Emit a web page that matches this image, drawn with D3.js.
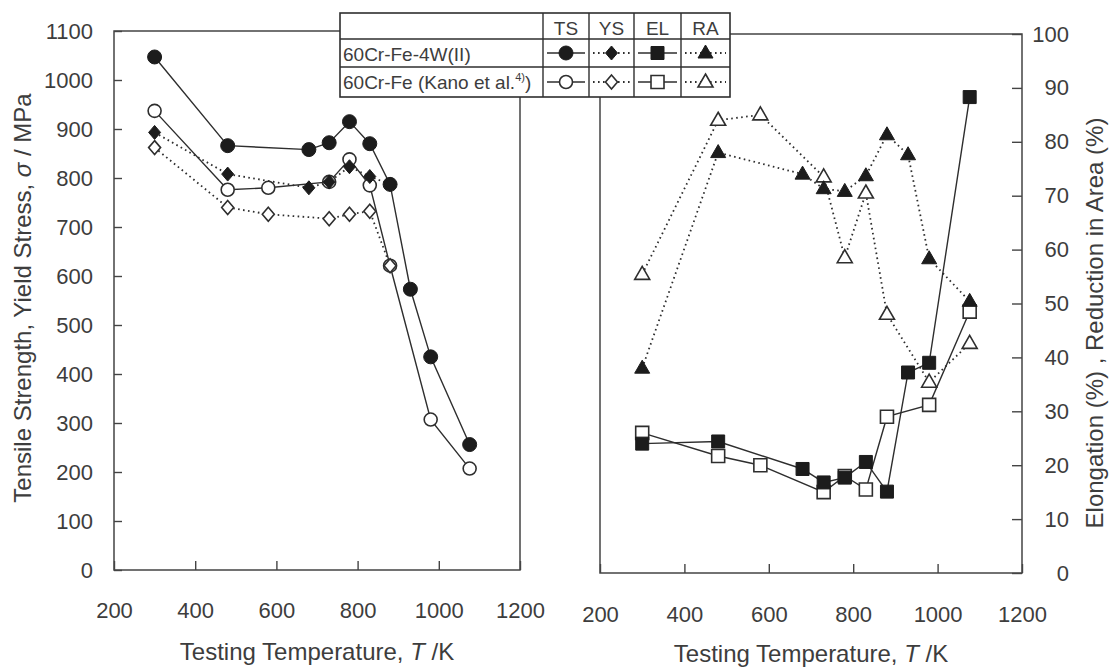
<!DOCTYPE html>
<html>
<head>
<meta charset="utf-8">
<script src="https://cdn.jsdelivr.net/npm/d3@7"></script>
<style>
body { margin: 0; background: #fff; }
text { font-family: "Liberation Sans", Arial, sans-serif; fill: #3d3d3d; }
</style>
</head>
<body>
<svg id="chart" width="1112" height="671"></svg>
<script>
// testing temperatures, K
var tempW = [300, 480, 680, 730, 780, 830, 880, 930, 980, 1076];   // 60Cr-Fe-4W(II)
var tempK = [300, 480, 580, 730, 780, 830, 880, 980, 1076];        // 60Cr-Fe (Kano et al.)

// 60Cr-Fe-4W(II): TS, YS in MPa, EL, RA in %
var tsW = [1047, 866, 858, 872, 915, 870, 787, 573, 435, 256];
var ysW = [893, 808, 780, 792, 823, 803, 787];
var elW = [24, 24.4, 19.3, 16.8, 17.7, 20.6, 15.1, 37.2, 39, 88.3];
var raW = [38, 78, 74, 71.3, 70.8, 73.7, 81.3, 77.6, 58.3, 50.4];

// 60Cr-Fe (Kano et al.)
var tsK = [937, 776, 780, 792, 838, 785, 621, 307, 207];
var ysK = [862, 740, 726, 717, 726, 732, 621];
var elK = [26, 21.7, 20, 15, 18, 15.5, 29, 31.2, 48.5];
var raK = [55.4, 84, 85, 73.5, 58.5, 70.5, 48, 35.4, 42.6];

var tempTicks = [200, 400, 600, 800, 1000, 1200];
var stressTicks = [0, 100, 200, 300, 400, 500, 600, 700, 800, 900, 1000, 1100];
var pctTicks = [0, 10, 20, 30, 40, 50, 60, 70, 80, 90, 100];
var legendCols = ["TS", "YS", "EL", "RA"];

var svg = d3.select("#chart");
var ink = "#2e2e2e", frame = "#444";

// scales
var xL = d3.scaleLinear().domain([200, 1200]).range([114, 520]);
var yL = d3.scaleLinear().domain([0, 1100]).range([570, 31]);
var xR = d3.scaleLinear().domain([200, 1200]).range([600, 1022]);
var yR = d3.scaleLinear().domain([0, 100]).range([573, 34]);

function zipData(temps, vals) {
    return vals.map(function(v, i) { return {t: temps[i], v: v}; });
}

// marker shapes, px
var shapes = {
    circle: function(open) { var r = open ? 6.5 : 7; return d3.arc()({innerRadius: 0, outerRadius: r, startAngle: 0, endAngle: 2 * Math.PI}); },
    diamond: function() { return "M0,-7L6,0L0,7L-6,0Z"; },
    square: function() { return "M-6.5,-6.5h13v13h-13Z"; },
    triangle: function() { return "M0,-8L7.5,5L-7.5,5Z"; }
};

function drawLine(g, data, x, y, dotted) {
    var line = d3.line().x(function(d) { return x(d.t); }).y(function(d) { return y(d.v); });
    g.append("path")
        .datum(data)
        .attr("d", line)
        .attr("fill", "none")
        .attr("stroke", ink)
        .attr("stroke-width", dotted ? 1.8 : 1.4)
        .attr("stroke-dasharray", dotted ? "1.6,3.4" : null);
}

function drawMarkers(g, data, x, y, shape, open) {
    g.selectAll(null)
        .data(data)
        .enter().append("path")
        .attr("transform", function(d) { return "translate(" + x(d.t) + "," + y(d.v) + ")"; })
        .attr("d", shapes[shape](open))
        .attr("fill", open ? "#fff" : "#1c1c1c")
        .attr("stroke", open ? ink : "#1c1c1c")
        .attr("stroke-width", open ? 1.6 : 1);
}

var series = [
    {panel: "L", temps: tempW, vals: tsW, shape: "circle", open: false, dotted: false},
    {panel: "L", temps: tempW, vals: ysW, shape: "diamond", open: false, dotted: true},
    {panel: "L", temps: tempK, vals: tsK, shape: "circle", open: true, dotted: false},
    {panel: "L", temps: tempK, vals: ysK, shape: "diamond", open: true, dotted: true},
    {panel: "R", temps: tempW, vals: elW, shape: "square", open: false, dotted: false},
    {panel: "R", temps: tempW, vals: raW, shape: "triangle", open: false, dotted: true},
    {panel: "R", temps: tempK, vals: elK, shape: "square", open: true, dotted: false},
    {panel: "R", temps: tempK, vals: raK, shape: "triangle", open: true, dotted: true}
];

// frames (partial, the legend table sits on top)
var frames = svg.append("g").attr("stroke", frame).attr("stroke-width", 1.5).attr("fill", "none");
frames.append("path").attr("d", "M340," + yL(1100) + "H" + xL(200) + "V" + yL(0) + "H" + xL(1200) + "V97");
frames.append("path").attr("d", "M730," + yR(100) + "H" + xR(1200) + "V" + yR(0) + "H" + xR(200) + "V97");

// axes
var fmt = d3.format("d");
function styleAxis(g, size) {
    g.select(".domain").remove();
    g.selectAll(".tick line").attr("stroke", frame).attr("stroke-width", 1.4);
    g.selectAll(".tick text").style("font-size", size + "px").attr("fill", "#3d3d3d");
}

var axL = svg.append("g").attr("transform", "translate(" + xL(200) + ",0)")
    .call(d3.axisLeft(yL).tickValues(stressTicks).tickFormat(fmt).tickSize(-8).tickPadding(21));
styleAxis(axL, 22);

var axLB = svg.append("g").attr("transform", "translate(0," + yL(0) + ")")
    .call(d3.axisBottom(xL).tickValues(tempTicks).tickFormat(fmt).tickSize(-9).tickPadding(32));
styleAxis(axLB, 22);

var axR = svg.append("g").attr("transform", "translate(" + xR(1200) + ",0)")
    .call(d3.axisRight(yR).tickValues(pctTicks).tickFormat(fmt).tickSize(-10).tickPadding(47));
styleAxis(axR, 22);
axR.selectAll(".tick text").attr("text-anchor", "end");

var axRB = svg.append("g").attr("transform", "translate(0," + yR(0) + ")")
    .call(d3.axisBottom(xR).tickValues(tempTicks).tickFormat(fmt).tickSize(-9).tickPadding(33));
styleAxis(axRB, 22);

// data
var plot = svg.append("g");
series.forEach(function(s) {
    var x = s.panel == "L" ? xL : xR, y = s.panel == "L" ? yL : yR;
    drawLine(plot, zipData(s.temps, s.vals), x, y, s.dotted);
});
[true, false].forEach(function(open) {
    series.filter(function(s) { return s.open == open; }).forEach(function(s) {
        var x = s.panel == "L" ? xL : xR, y = s.panel == "L" ? yL : yR;
        drawMarkers(plot, zipData(s.temps, s.vals), x, y, s.shape, s.open);
    });
});

// axis titles
var tl = svg.append("text").attr("transform", "translate(31,298) rotate(-90)")
    .attr("text-anchor", "middle").style("font-size", "24px");
tl.append("tspan").text("Tensile Strength, Yield Stress, ");
tl.append("tspan").style("font-style", "italic").text("σ");
tl.append("tspan").text(" / MPa");

var tr = svg.append("text").attr("transform", "translate(1103,323) rotate(-90)")
    .attr("text-anchor", "middle").style("font-size", "24px")
    .text("Elongation (%) , Reduction in Area (%)");

[[xL, 660], [xR, 662]].forEach(function(p) {
    var t = svg.append("text")
        .attr("x", (p[0](200) + p[0](1200)) / 2).attr("y", p[1])
        .attr("text-anchor", "middle").style("font-size", "24px");
    t.append("tspan").text("Testing Temperature, ");
    t.append("tspan").style("font-style", "italic").text("T");
    t.append("tspan").text(" /K");
});

// legend table
var lg = svg.append("g");
var colX = [543, 589, 634, 681, 730];
var rowY = [13, 39, 67, 97];
lg.append("rect").attr("x", 340).attr("y", 13).attr("width", 390).attr("height", 84)
    .attr("fill", "#fff").attr("stroke", ink).attr("stroke-width", 1.6);
rowY.slice(1, 3).forEach(function(yy) {
    lg.append("line").attr("x1", 340).attr("x2", 730).attr("y1", yy).attr("y2", yy)
        .attr("stroke", ink).attr("stroke-width", 1.4);
});
colX.slice(0, 4).forEach(function(xx) {
    lg.append("line").attr("x1", xx).attr("x2", xx).attr("y1", 13).attr("y2", 97)
        .attr("stroke", ink).attr("stroke-width", 1.4);
});
legendCols.forEach(function(c, i) {
    lg.append("text").attr("x", (colX[i] + colX[i + 1]) / 2).attr("y", 35)
        .attr("text-anchor", "middle").style("font-size", "19px").text(c);
});
lg.append("text").attr("x", 343).attr("y", 61).style("font-size", "19px").text("60Cr-Fe-4W(II)");
var k = lg.append("text").attr("x", 343).attr("y", 89).style("font-size", "19px");
k.append("tspan").text("60Cr-Fe (Kano et al.");
k.append("tspan").attr("dy", -8).style("font-size", "11px").text("4)");
k.append("tspan").attr("dy", 8).text(")");

var legendRows = [series.filter(function(s) { return !s.open; }), series.filter(function(s) { return s.open; })];
var rowMid = [53, 82];
legendRows.forEach(function(row, r) {
    // order in table: TS, YS, EL, RA
    row.forEach(function(s, i) {
        var x0 = colX[i] + 4, x1 = colX[i + 1] - 4, ym = rowMid[r];
        lg.append("line").attr("x1", x0).attr("x2", x1).attr("y1", ym).attr("y2", ym)
            .attr("stroke", ink).attr("stroke-width", s.dotted ? 1.8 : 1.4)
            .attr("stroke-dasharray", s.dotted ? "1.6,3.4" : null);
        lg.append("path").attr("transform", "translate(" + (x0 + x1) / 2 + "," + ym + ")")
            .attr("d", shapes[s.shape](s.open))
            .attr("fill", s.open ? "#fff" : "#1c1c1c")
            .attr("stroke", s.open ? ink : "#1c1c1c")
            .attr("stroke-width", s.open ? 1.6 : 1);
    });
});
</script>
</body>
</html>
